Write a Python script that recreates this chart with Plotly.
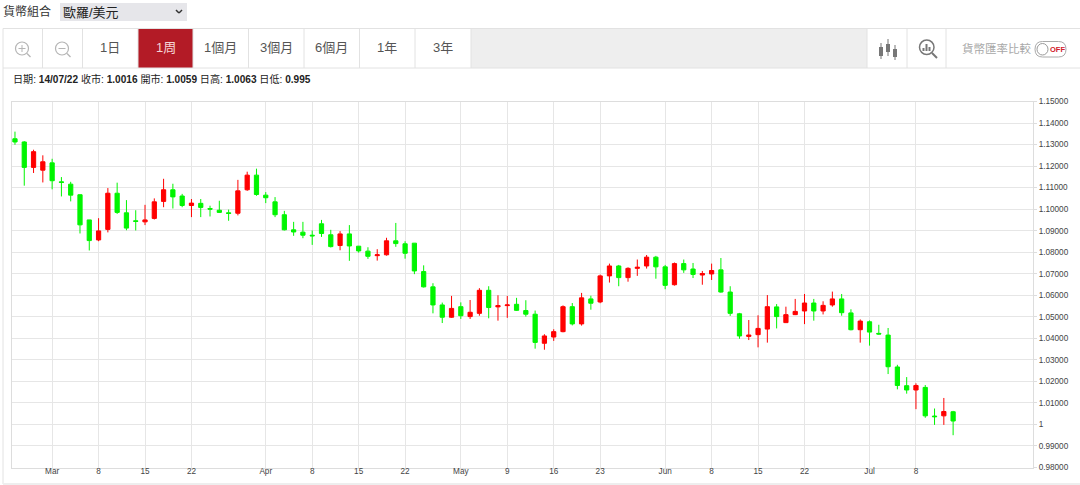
import pandas as pd
import plotly.graph_objects as go

# Daily EUR/USD candles
dates = pd.bdate_range("2022-02-23", "2022-07-14").strftime("%Y-%m-%d").tolist()

opens = [1.1327, 1.1312, 1.1194, 1.1181, 1.1215, 1.1127, 1.1116, 1.1067, 1.0950, 1.0857,
         1.0906, 1.1074, 1.0983, 1.0946, 1.0941, 1.0957, 1.1036, 1.1090, 1.1061, 1.1017,
         1.1027, 1.1003, 1.0995, 1.0983, 1.0981, 1.1090, 1.1158, 1.1065, 1.1034, 1.0974,
         1.0904, 1.0893, 1.0879, 1.0932, 1.0881, 1.0831, 1.0885, 1.0828, 1.0805, 1.0784,
         1.0788, 1.0853, 1.0839, 1.0842, 1.0710, 1.0639, 1.0555, 1.0498, 1.0547, 1.0501,
         1.0516, 1.0623, 1.0546, 1.0552, 1.0558, 1.0529, 1.0512, 1.0377, 1.0406, 1.0431,
         1.0547, 1.0467, 1.0583, 1.0569, 1.0690, 1.0736, 1.0682, 1.0725, 1.0736, 1.0777,
         1.0732, 1.0649, 1.0747, 1.0722, 1.0694, 1.0699, 1.0718, 1.0615, 1.0514, 1.0409,
         1.0417, 1.0443, 1.0546, 1.0473, 1.0510, 1.0527, 1.0564, 1.0527, 1.0555, 1.0583,
         1.0518, 1.0440, 1.0477, 1.0423, 1.0415, 1.0267, 1.0180, 1.0160, 1.0172, 1.0039,
         1.0040, 1.0059]
highs = [1.1360, 1.1316, 1.1276, 1.1250, 1.1234, 1.1149, 1.1127, 1.1068, 1.0950, 1.0958,
         1.1098, 1.1123, 1.1042, 1.0995, 1.1020, 1.1050, 1.1141, 1.1118, 1.1071, 1.1047,
         1.1047, 1.1016, 1.1039, 1.0998, 1.1136, 1.1174, 1.1188, 1.1079, 1.1056, 1.0992,
         1.0941, 1.0941, 1.0901, 1.0950, 1.0904, 1.0898, 1.0926, 1.0829, 1.0823, 1.0814,
         1.0867, 1.0936, 1.0851, 1.0842, 1.0739, 1.0656, 1.0566, 1.0597, 1.0567, 1.0578,
         1.0633, 1.0642, 1.0600, 1.0597, 1.0588, 1.0577, 1.0529, 1.0419, 1.0442, 1.0553,
         1.0564, 1.0611, 1.0598, 1.0696, 1.0747, 1.0741, 1.0730, 1.0766, 1.0787, 1.0783,
         1.0741, 1.0752, 1.0766, 1.0750, 1.0713, 1.0747, 1.0773, 1.0642, 1.0518, 1.0485,
         1.0507, 1.0601, 1.0559, 1.0547, 1.0583, 1.0606, 1.0583, 1.0572, 1.0617, 1.0606,
         1.0535, 1.0488, 1.0483, 1.0463, 1.0448, 1.0277, 1.0220, 1.0191, 1.0183, 1.0074,
         1.0123, 1.0063]
lows = [1.1299, 1.1109, 1.1168, 1.1124, 1.1092, 1.1059, 1.1036, 1.0887, 1.0808, 1.0851,
        1.0892, 1.0978, 1.0902, 1.0901, 1.0926, 1.0952, 1.1009, 1.1003, 1.1009, 1.0963,
        1.0963, 1.0966, 1.0982, 1.0946, 1.0971, 1.1085, 1.1062, 1.1028, 1.0963, 1.0901,
        1.0876, 1.0865, 1.0834, 1.0871, 1.0822, 1.0809, 1.0760, 1.0798, 1.0769, 1.0761,
        1.0784, 1.0825, 1.0770, 1.0698, 1.0636, 1.0516, 1.0471, 1.0495, 1.0490, 1.0490,
        1.0505, 1.0493, 1.0482, 1.0495, 1.0527, 1.0501, 1.0352, 1.0347, 1.0388, 1.0428,
        1.0460, 1.0459, 1.0533, 1.0563, 1.0659, 1.0642, 1.0663, 1.0690, 1.0724, 1.0677,
        1.0628, 1.0645, 1.0704, 1.0680, 1.0649, 1.0671, 1.0612, 1.0504, 1.0398, 1.0392,
        1.0358, 1.0380, 1.0446, 1.0471, 1.0508, 1.0466, 1.0482, 1.0511, 1.0547, 1.0505,
        1.0437, 1.0380, 1.0366, 1.0417, 1.0234, 1.0163, 1.0143, 1.0071, 1.0031, 0.9998,
        0.9998, 0.9950]
closes = [1.1312, 1.1194, 1.1267, 1.1220, 1.1132, 1.1124, 1.1065, 1.0927, 1.0854, 1.0899,
          1.1074, 1.0985, 1.0912, 1.0943, 1.0950, 1.1034, 1.1090, 1.1057, 1.1017, 1.1028,
          1.1008, 1.1000, 1.0985, 1.0980, 1.1085, 1.1158, 1.1068, 1.1053, 1.0974, 1.0904,
          1.0894, 1.0879, 1.0876, 1.0887, 1.0826, 1.0885, 1.0829, 1.0806, 1.0781, 1.0788,
          1.0853, 1.0840, 1.0795, 1.0713, 1.0639, 1.0555, 1.0498, 1.0539, 1.0505, 1.0521,
          1.0623, 1.0543, 1.0552, 1.0555, 1.0530, 1.0512, 1.0381, 1.0411, 1.0431, 1.0547,
          1.0467, 1.0588, 1.0563, 1.0690, 1.0736, 1.0682, 1.0725, 1.0730, 1.0777, 1.0732,
          1.0646, 1.0747, 1.0718, 1.0697, 1.0701, 1.0715, 1.0615, 1.0516, 1.0411, 1.0415,
          1.0446, 1.0547, 1.0501, 1.0510, 1.0525, 1.0564, 1.0527, 1.0553, 1.0583, 1.0519,
          1.0440, 1.0480, 1.0429, 1.0420, 1.0268, 1.0181, 1.0160, 1.0181, 1.0040, 1.0036,
          1.0060, 1.0016]

x_tick_dates = ["2022-03-01", "2022-03-08", "2022-03-15", "2022-03-22", "2022-04-01", "2022-04-08",
                "2022-04-15", "2022-04-22", "2022-05-02", "2022-05-09", "2022-05-16", "2022-05-23",
                "2022-06-01", "2022-06-08", "2022-06-15", "2022-06-22", "2022-07-01", "2022-07-08"]
x_tick_labels = ["Mar", "8", "15", "22", "Apr", "8", "15", "22", "May", "9", "16", "23",
                 "Jun", "8", "15", "22", "Jul", "8"]
y_ticks = [0.98, 0.99, 1.0, 1.01, 1.02, 1.03, 1.04, 1.05, 1.06, 1.07, 1.08, 1.09,
           1.10, 1.11, 1.12, 1.13, 1.14, 1.15]
y_tick_labels = ["0.98000", "0.99000", "1", "1.01000", "1.02000", "1.03000", "1.04000", "1.05000",
                 "1.06000", "1.07000", "1.08000", "1.09000", "1.10000", "1.11000", "1.12000",
                 "1.13000", "1.14000", "1.15000"]

tabs = ["1日", "1周", "1個月", "3個月", "6個月", "1年", "3年"]
tab_edges = [82, 138, 193, 248.5, 304, 359.5, 415, 471]

W, H = 1080, 485
FONT = "Liberation Sans, Arial, Noto Sans CJK TC, sans-serif"
BORDER = "#e2e2e2"


def px(x):
    return x / W


def py(y):
    return 1 - y / H


shapes = []
annotations = []


def rect(x0, y0, x1, y1, fill=None, line=None, width=1):
    shapes.append(dict(type="rect", xref="paper", yref="paper", x0=px(x0), x1=px(x1), y0=py(y0), y1=py(y1),
                       fillcolor=fill or "rgba(0,0,0,0)", line=dict(color=line or "rgba(0,0,0,0)", width=width if line else 0)))


def seg(x0, y0, x1, y1, color, width=1):
    shapes.append(dict(type="line", xref="paper", yref="paper", x0=px(x0), x1=px(x1), y0=py(y0), y1=py(y1),
                       line=dict(color=color, width=width)))


def circle(x0, y0, x1, y1, color, width=1, fill=None):
    shapes.append(dict(type="circle", xref="paper", yref="paper", x0=px(x0), x1=px(x1), y0=py(y0), y1=py(y1),
                       fillcolor=fill or "rgba(0,0,0,0)", line=dict(color=color, width=width)))


def text(x, y, s, size, color, anchor="left"):
    annotations.append(dict(xref="paper", yref="paper", x=px(x), y=py(y), text=s, showarrow=False, xanchor=anchor,
                            yanchor="middle", font=dict(family=FONT, size=size, color=color),
                            borderpad=0, xshift=0, yshift=0))


# top selector
text(2, 11, "貨幣組合", 12, "#333333")
rect(60, 3, 187, 21, fill="#e6e6ea")
text(62, 12, "歐羅/美元", 13, "#222222")
seg(176, 10, 179, 13, "#333333", 1.5)
seg(179, 13, 182, 10, "#333333", 1.5)

# toolbar
rect(471, 29, 867, 68, fill="#eeeeee")
rect(tab_edges[1], 29, tab_edges[2], 68, fill="#b31b26")
seg(3, 28.5, W, 28.5, BORDER)
seg(3, 68, W, 68, BORDER)
seg(3, 28.5, 3, 484, BORDER)
seg(3, 484, W, 484, "#eeeeee", 2)
for ex in [42.5, 82.5, 138, 193, 248.5, 304, 359.5, 415, 471, 867, 907, 946]:
    seg(ex, 29, ex, 68, BORDER)
for i, t in enumerate(tabs):
    text((tab_edges[i] + tab_edges[i + 1]) / 2, 48, t, 13, "#f4d4d6" if i == 1 else "#555555", "center")

# zoom icons
for cx, sign in [(22, "+"), (62, "-")]:
    circle(cx - 6.5, 42, cx + 6.5, 55, "#b5b5b5", 1.2)
    seg(cx + 5, 53.5, cx + 8.5, 57, "#b5b5b5", 1.2)
    seg(cx - 3.5, 48.5, cx + 3.5, 48.5, "#b5b5b5", 1)
    if sign == "+":
        seg(cx, 45, cx, 52, "#b5b5b5", 1)

# candle icon
for cx, wt, wb, bt, bb in [(881, 43, 59, 47, 56), (888, 39, 56, 44, 52), (895, 45, 60, 49, 57)]:
    seg(cx, wt, cx, wb, "#777777", 1)
    rect(cx - 2, bt, cx + 2, bb, fill="#777777")

# search icon
circle(919.5, 40, 934, 54.5, "#777777", 1.5)
seg(932, 53, 937, 58, "#777777", 2)
for bx, bt in [(923.5, 48), (926.5, 44), (929.5, 47)]:
    seg(bx, bt, bx, 51, "#777777", 2)

# compare toggle
text(960.5, 49, "貨幣匯率比較", 11.5, "#a8a8a8")
r = 7.5
x0_t, x1_t, y0_t, y1_t = 1035, 1066, 41.5, 57
shapes.append(dict(type="path", xref="paper", yref="paper",
                   path=f"M {px(x0_t + r)} {py(y0_t)} L {px(x1_t - r)} {py(y0_t)} "
                        f"Q {px(x1_t)} {py(y0_t)} {px(x1_t)} {py((y0_t + y1_t) / 2)} "
                        f"Q {px(x1_t)} {py(y1_t)} {px(x1_t - r)} {py(y1_t)} "
                        f"L {px(x0_t + r)} {py(y1_t)} "
                        f"Q {px(x0_t)} {py(y1_t)} {px(x0_t)} {py((y0_t + y1_t) / 2)} "
                        f"Q {px(x0_t)} {py(y0_t)} {px(x0_t + r)} {py(y0_t)} Z",
                   line=dict(color="#aaaaaa", width=1)))
circle(1037, 43.5, 1048, 55, "#999999", 1, "#ffffff")
text(1057.5, 49.5, "<b>OFF</b>", 7.5, "#d0202a", "center")

# quote line
text(12, 79, "日期: <b>14/07/22</b> 收市: <b>1.0016</b> 開市: <b>1.0059</b> 日高: <b>1.0063</b> 日低: <b>0.995</b>",
     10.1, "#222222")

fig = go.Figure(go.Candlestick(
    x=dates, open=opens, high=highs, low=lows, close=closes,
    increasing=dict(line=dict(color="#ff0000", width=1), fillcolor="#ff0000"),
    decreasing=dict(line=dict(color="#00f500", width=1), fillcolor="#00f500"),
    whiskerwidth=0,
))

fig.update_layout(
    width=W, height=H,
    margin=dict(l=0, r=0, t=0, b=0, pad=0, autoexpand=False),
    paper_bgcolor="white", plot_bgcolor="white",
    font=dict(family=FONT, size=8.2, color="#444444"),
    showlegend=False,
    boxgap=0.35,
    shapes=shapes,
    annotations=annotations,
    xaxis=dict(type="category", domain=[px(12), px(1033)], range=[-0.32, 109.6],
               tickmode="array", tickvals=x_tick_dates, ticktext=x_tick_labels, tickangle=0,
               ticklabelstandoff=-4,
               showgrid=True, gridcolor="#e6e6e6", gridwidth=1,
               showline=True, linecolor="#dddddd", mirror=True, ticks="",
               rangeslider=dict(visible=False), fixedrange=True),
    yaxis=dict(side="right", domain=[py(467.5), py(101.5)], range=[0.98, 1.15],
               tickmode="array", tickvals=y_ticks, ticktext=y_tick_labels,
               showgrid=True, gridcolor="#e6e6e6", gridwidth=1,
               showline=True, linecolor="#dddddd", mirror=True,
               ticks="outside", ticklen=3, tickcolor="#dddddd", zeroline=False, fixedrange=True),
)

# plotly's page keeps the browser's default body margin, drop it so the 1080x485 figure fits the window
fig.write_html("out.html", config=dict(displayModeBar=False),
               post_script="document.body.style.margin='0';document.body.style.overflow='hidden';")
